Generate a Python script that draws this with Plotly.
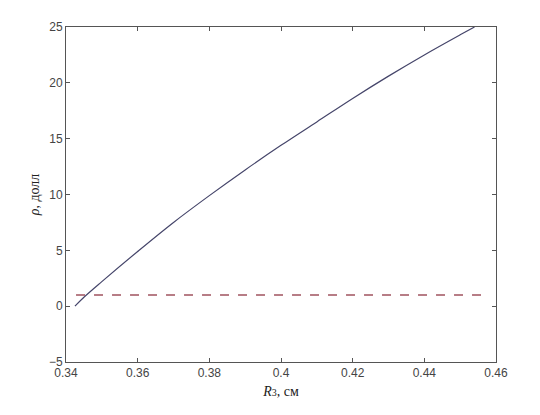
import plotly.graph_objects as go

# data
r3 = [0.3425, 0.345, 0.35, 0.36, 0.37, 0.38, 0.39, 0.40, 0.41, 0.42, 0.43, 0.44, 0.45, 0.454]
rho = [0.0, 0.8, 2.2, 4.9, 7.5, 9.9, 12.2, 14.4, 16.5, 18.6, 20.6, 22.5, 24.3, 25.0]

limit_x = [0.3428, 0.4567]
limit_y = [1, 1]

x_ticks = [0.34, 0.36, 0.38, 0.40, 0.42, 0.44, 0.46]
x_tick_text = ["0.34", "0.36", "0.38", "0.4", "0.42", "0.44", "0.46"]
y_ticks = [-5, 0, 5, 10, 15, 20, 25]

fig = go.Figure()
fig.add_trace(go.Scatter(x=r3, y=rho, mode="lines",
                         line=dict(color="#45456a", width=1.2, shape="spline"), showlegend=False))
fig.add_trace(go.Scatter(x=limit_x, y=limit_y, mode="lines",
                         line=dict(color="#a0535f", width=1.3, dash="dash"), showlegend=False))

axis_style = dict(showline=True, linecolor="#555", linewidth=1, mirror="ticks",
                  ticks="inside", ticklen=4, tickcolor="#555", showgrid=False,
                  zeroline=False, tickfont=dict(family="Liberation Sans", size=12, color="#444"))

fig.update_xaxes(range=[0.34, 0.46], tickvals=x_ticks, ticktext=x_tick_text,
                 title=dict(text="<i>R</i><span style='font-size:10px'>3</span>, см", standoff=6,
                            font=dict(family="Liberation Serif", size=14, color="#222")),
                 **axis_style)
fig.update_yaxes(range=[-5, 25], tickvals=y_ticks,
                 title=dict(text="<i>ρ</i>, долл", standoff=6,
                            font=dict(family="Liberation Serif", size=14, color="#222")),
                 **axis_style)

fig.update_layout(width=540, height=415, plot_bgcolor="white", paper_bgcolor="white",
                  margin=dict(l=58, r=52, t=15, b=61))

fig.write_html("out.html")
